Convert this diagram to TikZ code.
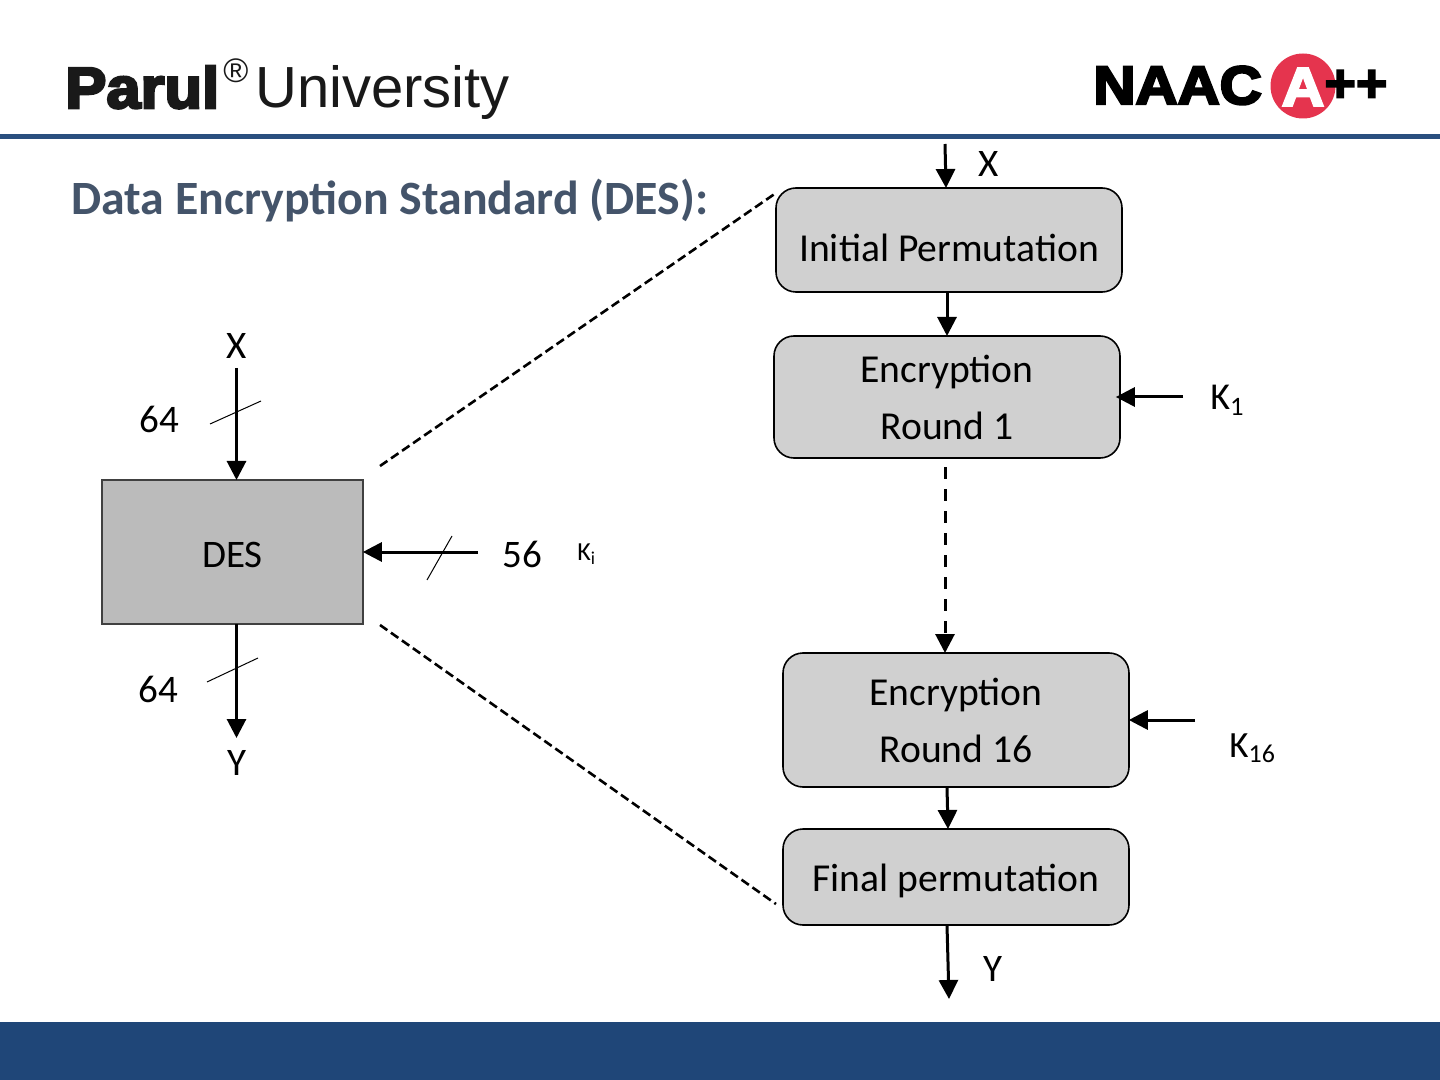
\documentclass[tikz,border=0pt]{standalone}
\usepackage{fontspec}
\setmainfont{Carlito}
\newfontfamily\logofont{Liberation Sans}
\newfontfamily\logoheavy[FakeBold=4.5,FakeStretch=1.06]{Liberation Sans Bold}
\newfontfamily\logoplus[FakeBold=3]{Liberation Sans Bold}
\newfontfamily\naacfont[FakeBold=4.5,FakeStretch=1.08]{Liberation Sans Bold}
\usetikzlibrary{arrows.meta, positioning, calc}

\definecolor{barblue}{HTML}{1F4678}
\definecolor{titleblue}{HTML}{44546A}
\definecolor{boxgray}{HTML}{D0D0D0}
\definecolor{desgray}{HTML}{BBBBBB}
\definecolor{naacred}{HTML}{E5344E}

\tikzset{
    flow/.style={-{Triangle[length=9.5pt,width=9.5pt]}, line width=1.5pt},
    roundbox/.style={draw, line width=0.8pt, fill=boxgray, rounded corners=10pt, minimum width=173pt, align=center, font=\fontsize{19.8}{28.5}\selectfont, inner sep=0pt},
    desbox/.style={draw=black!75, line width=0.8pt, fill=desgray, minimum width=130.5pt, minimum height=72pt, font=\fontsize{19.5}{24}\selectfont, inner sep=0pt},
    txt/.style={font=\fontsize{19.5}{24}\selectfont, inner sep=0pt},
    slash/.style={line width=0.5pt},
    zoomline/.style={line width=1.3pt, dash pattern=on 4.5pt off 2.2pt}
}

\begin{document}
\begin{tikzpicture}[x=0.5pt, y=-0.5pt]
    \useasboundingbox (0,0) rectangle (1440,1080);

    % Header and footer
    \fill[barblue!95!white] (0,134) rectangle (1440,139);
    \fill[barblue] (0,1022) rectangle (1440,1080);

    % Logos
    \node[anchor=base west, inner sep=0pt, font=\fontsize{29}{30}\logoheavy, text=black!90] (parul) at (65,108) {Parul};
    \node[anchor=base west, inner sep=0pt, font=\fontsize{17}{20}\logofont, text=black!90] (reg) at (223,83) {®};
    \node[anchor=base west, inner sep=0pt, font=\fontsize{29}{30}\logofont, text=black!90] (univ) at (255,108) {University};
    \node[anchor=base west, inner sep=0pt, font=\fontsize{27}{28}\naacfont] (naac) at (1093,104) {NAAC};
    \node[circle, fill=naacred, minimum size=32.5pt, inner sep=0pt] (badge) at (1303,86) {};
    \node[anchor=center, inner sep=0pt, font=\fontsize{27}{28}\naacfont, text=white] (badgeA) at (1303,87) {A};
    \node[anchor=center, inner sep=0pt, font=\fontsize{27}{28}\logoplus] (plus) at (1356,86) {++};

    % Title
    \node[anchor=base west, inner sep=0pt, text=titleblue, font=\fontsize{23.9}{28}\selectfont\bfseries] (title) at (71,214.5) {Data Encryption Standard (DES):};

    % DES block
    \node[desbox, text height=16pt] (des) at (232.5,552) {DES};
    \node[txt] (xin) at (237,346) {X};
    \coordinate (xstart) at (236.5,368);
    \coordinate (desin) at (236.5,480);
    \draw[flow] (xstart) -- (desin);
    \node[txt] (n64a) at (159,419) {64};
    \coordinate (sa1) at (210,424);
    \coordinate (sa2) at (261,401);
    \draw[slash] (sa1) -- (sa2);

    \coordinate (desout) at (236.5,624);
    \coordinate (yend) at (236.5,738);
    \draw[flow] (desout) -- (yend);
    \node[txt] (n64b) at (158,689) {64};
    \node[txt] (yout) at (237,763) {Y};
    \coordinate (sb1) at (207,682);
    \coordinate (sb2) at (258,658);
    \draw[slash] (sb1) -- (sb2);

    \coordinate (keystart) at (478,552);
    \draw[flow, shorten >=-0.5pt] (keystart) -- (des.east |- keystart);
    \coordinate (sc1) at (427,580);
    \coordinate (sc2) at (452,536);
    \draw[slash] (sc1) -- (sc2);
    \node[txt] (n56) at (522,554) {56};
    \node[anchor=base west, inner sep=0pt, font=\fontsize{13}{15}\selectfont] (ki) at (577,560) {K\textsubscript{i}};

    % Round blocks
    \node[roundbox, minimum height=52pt, text height=22pt] (ip) at (949,240) {Initial Permutation};
    \node[roundbox, minimum height=61pt] (er1) at (947,397) {Encryption\\Round 1};
    \node[roundbox, minimum height=67pt] (er16) at (956,720) {Encryption\\Round 16};
    \node[roundbox, minimum height=48pt, text height=18pt] (fp) at (956,877) {Final permutation};

    % Flow through the rounds
    \coordinate (xtop) at (945,144);
    \draw[flow] (xtop) -- (946,188);
    \node[txt] (xr) at (989,164) {X};
    \draw[flow] (947,292) -- (947,336);
    \draw[flow, dash pattern=on 6pt off 5pt] (945,467) -- (945,653);
    \draw[flow] (947,787) -- (948,829);
    \coordinate (yr) at (949,999);
    \draw[flow] (947,925) -- (yr);
    \node[txt] (yrt) at (993,969) {Y};

    % Round keys
    \coordinate (k1start) at (1183,397);
    \draw[flow, shorten >=-2.5pt] (k1start) -- (er1.east |- k1start);
    \node[anchor=base west, inner sep=0pt, txt, font=\fontsize{19}{24}\selectfont] (k1) at (1210,410) {K\textsubscript{1}};
    \coordinate (k16start) at (1195,720);
    \draw[flow, shorten >=-0.5pt] (k16start) -- (er16.east |- k16start);
    \node[anchor=base west, inner sep=0pt, txt, font=\fontsize{18.5}{24}\selectfont] (k16) at (1229,757) {K\textsubscript{16}};

    % Zoom lines
    \coordinate (za) at (380,466);
    \coordinate (zb) at (776,193);
    \coordinate (zc) at (380,625);
    \coordinate (zd) at (776,904);
    \draw[zoomline] (za) -- (zb);
    \draw[zoomline] (zc) -- (zd);
\end{tikzpicture}
\end{document}
